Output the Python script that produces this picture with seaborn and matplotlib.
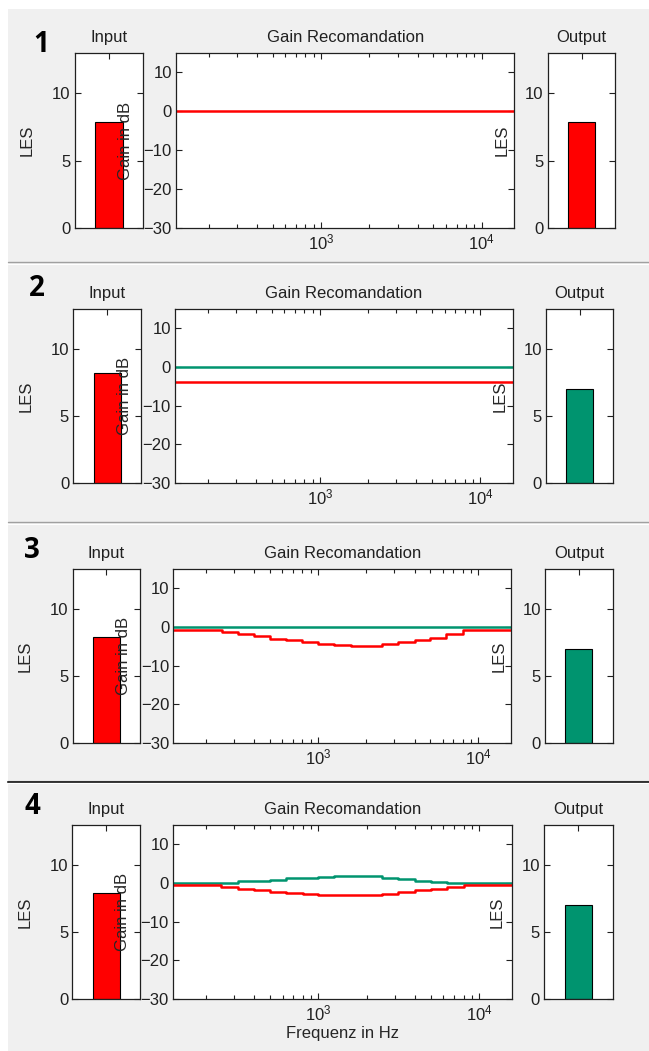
import matplotlib
matplotlib.use("Agg")
import matplotlib.pyplot as plt
import seaborn as sns
from matplotlib.lines import Line2D
from matplotlib.patches import Rectangle
from matplotlib.ticker import NullFormatter, LogLocator

# ---------------- data ----------------
PANEL_LABELS = ["1", "2", "3", "4"]
INPUT_LES = [7.9, 8.2, 7.9, 7.9]
OUTPUT_LES = [7.9, 7.0, 7.0, 7.0]
OUTPUT_IS_GREEN = [False, True, True, True]

FREQS = [125, 160, 200, 250, 315, 400, 500, 630, 800, 1000, 1250,
         1600, 2000, 2500, 3150, 4000, 5000, 6300, 8000, 10000, 12500, 16000]

RED_1 = [0.0, 0.0, 0.0, 0.0, 0.0, 0.0, 0.0, 0.0, 0.0, 0.0, 0.0,
         0.0, 0.0, 0.0, 0.0, 0.0, 0.0, 0.0, 0.0, 0.0, 0.0, 0.0]
GREEN_2 = [0.0, 0.0, 0.0, 0.0, 0.0, 0.0, 0.0, 0.0, 0.0, 0.0, 0.0,
           0.0, 0.0, 0.0, 0.0, 0.0, 0.0, 0.0, 0.0, 0.0, 0.0, 0.0]
RED_2 = [-3.9, -3.9, -3.9, -3.9, -3.9, -3.9, -3.9, -3.9, -3.9, -3.9, -3.9,
         -3.9, -3.9, -3.9, -3.9, -3.9, -3.9, -3.9, -3.9, -3.9, -3.9, -3.9]
GREEN_3 = [0.0, 0.0, 0.0, 0.0, 0.0, 0.0, 0.0, 0.0, 0.0, 0.0, 0.0,
           0.0, 0.0, 0.0, 0.0, 0.0, 0.0, 0.0, 0.0, 0.0, 0.0, 0.0]
RED_3 = [-0.8, -0.8, -0.8, -1.3, -1.9, -2.4, -3.0, -3.4, -4.0, -4.4, -4.7,
         -5.0, -5.0, -4.5, -4.0, -3.4, -2.8, -1.7, -0.8, -0.8, -0.8, -0.8]
GREEN_4 = [0.0, 0.0, 0.0, 0.0, 0.4, 0.5, 0.9, 1.2, 1.4, 1.6, 1.7,
           1.8, 1.8, 1.4, 1.0, 0.6, 0.3, 0.0, 0.0, 0.0, 0.0, 0.0]
RED_4 = [-0.6, -0.6, -0.6, -1.0, -1.5, -1.9, -2.3, -2.5, -2.8, -3.0, -3.2,
         -3.2, -3.2, -2.8, -2.3, -1.9, -1.5, -1.0, -0.6, -0.6, -0.6, -0.6]

GREEN_SERIES = [None, GREEN_2, GREEN_3, GREEN_4]
RED_SERIES = [RED_1, RED_2, RED_3, RED_4]

GAIN_YTICKS = [-30, -20, -10, 0, 10]
LES_YTICKS = [0, 5, 10]

# ---------------- style ----------------
sns.set_style("ticks")
plt.rcParams["font.family"] = ["Liberation Sans", "DejaVu Sans"]
plt.rcParams["font.size"] = 12
plt.rcParams["axes.edgecolor"] = "#202020"
plt.rcParams["text.color"] = "#202020"
plt.rcParams["xtick.color"] = "#202020"
plt.rcParams["ytick.color"] = "#202020"

RED = "#ff0000"
GREEN = "#00946f"
BG = "#f0f0f0"

W, H = 649, 1051
fig = plt.figure(figsize=(W / 100, H / 100), dpi=100)
fig.patch.set_facecolor(BG)

# white margins (top / left)
fig.add_artist(Rectangle((0, 1 - 9 / H), 1, 9 / H, transform=fig.transFigure,
                         facecolor="white", edgecolor="none", zorder=0))
fig.add_artist(Rectangle((0, 0), 8 / W, 1, transform=fig.transFigure,
                         facecolor="white", edgecolor="none", zorder=0))


def rect(x0, x1, y0, y1):
    return [x0 / W, 1 - y1 / H, (x1 - x0) / W, (y1 - y0) / H]


# pixel layout per panel: (top, bottom), input x, gain x, output x
LAYOUT = [
    ((53, 228), (74.7, 143.3), (176, 514.3), (547.7, 615.3)),
    ((309, 483), (73.3, 141), (175, 513), (546, 613)),
    ((569, 743), (72.7, 140), (173.3, 511), (545, 612.7)),
    ((825, 999), (72.4, 140), (173, 512), (544, 612.6)),
]
NUM_POS = [(41, 45), (37, 289), (32, 550), (32, 807)]


def style_ticks(ax):
    ax.tick_params(which="both", direction="in", top=True, right=True,
                   width=0.8, labelsize=12, pad=3)
    ax.tick_params(which="major", length=4.5)
    ax.tick_params(which="minor", length=3)
    for s in ax.spines.values():
        s.set_linewidth(0.9)
        s.set_visible(True)


for i in range(4):
    (top, bot), ix, gx, ox = LAYOUT[i]

    # ---- input bar ----
    ax_in = fig.add_axes(rect(ix[0], ix[1], top, bot))
    sns.barplot(x=["LES"], y=[INPUT_LES[i]], ax=ax_in, color=RED, saturation=1,
                edgecolor="black", linewidth=0.8, width=0.8)
    ax_in.set_xlim(-1, 1)
    ax_in.set_ylim(0, 13)
    ax_in.set_xticks([0])
    ax_in.set_xticklabels([""])
    ax_in.set_yticks(LES_YTICKS)
    ax_in.set_xlabel("")
    ax_in.set_ylabel("LES", fontsize=12)
    ax_in.yaxis.set_label_coords(-0.59, 0.5)
    ax_in.set_title("Input", fontsize=12, pad=8)
    style_ticks(ax_in)

    # ---- gain plot ----
    ax_g = fig.add_axes(rect(gx[0], gx[1], top, bot))
    if GREEN_SERIES[i] is not None:
        sns.lineplot(x=FREQS, y=GREEN_SERIES[i], ax=ax_g, color=GREEN,
                     linewidth=1.8, drawstyle="steps-post", estimator=None)
    sns.lineplot(x=FREQS, y=RED_SERIES[i], ax=ax_g, color=RED,
                 linewidth=1.8, drawstyle="steps-post", estimator=None)
    ax_g.set_xscale("log")
    ax_g.set_xlim(125, 16000)
    ax_g.set_ylim(-30, 15)
    ax_g.set_yticks(GAIN_YTICKS)
    ax_g.xaxis.set_major_locator(LogLocator(base=10))
    ax_g.xaxis.set_minor_locator(LogLocator(base=10, subs=range(2, 10)))
    ax_g.xaxis.set_minor_formatter(NullFormatter())
    ax_g.set_ylabel("Gain in dB", fontsize=12)
    ax_g.yaxis.set_label_coords(-0.126, 0.5)
    ax_g.set_title("Gain Recomandation", fontsize=12, pad=8)
    if i == 3:
        ax_g.set_xlabel("Frequenz in Hz", fontsize=12, labelpad=2)
    else:
        ax_g.set_xlabel("")
    style_ticks(ax_g)

    # ---- output bar ----
    ax_out = fig.add_axes(rect(ox[0], ox[1], top, bot))
    oc = GREEN if OUTPUT_IS_GREEN[i] else RED
    sns.barplot(x=["LES"], y=[OUTPUT_LES[i]], ax=ax_out, color=oc, saturation=1,
                edgecolor="black", linewidth=0.8, width=0.8)
    ax_out.set_xlim(-1, 1)
    ax_out.set_ylim(0, 13)
    ax_out.set_xticks([0])
    ax_out.set_xticklabels([""])
    ax_out.set_yticks(LES_YTICKS)
    ax_out.set_xlabel("")
    ax_out.set_ylabel("LES", fontsize=12)
    ax_out.yaxis.set_label_coords(-0.567, 0.5)
    ax_out.set_title("Output", fontsize=12, pad=8)
    style_ticks(ax_out)

    # panel number
    nx, ny = NUM_POS[i]
    fig.text(nx / W, 1 - ny / H, PANEL_LABELS[i], fontsize=20, fontweight="bold",
             ha="center", va="center", family=["Open Sans", "DejaVu Sans"],
             color="black")

# separators
for y, col, lw in [(262, "#a0a0a0", 1.0), (522, "#a0a0a0", 1.0), (781.5, "#303030", 1.5)]:
    fig.add_artist(Line2D([8 / W, 1], [1 - y / H, 1 - y / H], color=col, lw=lw,
                          transform=fig.transFigure))
    fig.add_artist(Line2D([8 / W, 1], [1 - (y + 1.5) / H, 1 - (y + 1.5) / H],
                          color="white", lw=0.8, transform=fig.transFigure))

fig.savefig("out.png", dpi=100)
